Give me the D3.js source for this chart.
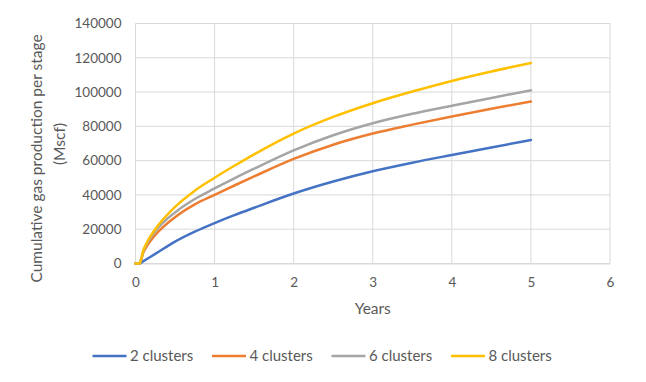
<!DOCTYPE html>
<html><head><meta charset="utf-8">
<script src="https://cdn.jsdelivr.net/npm/d3@7"></script>
<style>
html,body{margin:0;padding:0;background:#fff;}
text{font-family:Lato,"Open Sans",sans-serif;fill:#595959;}
</style></head>
<body><svg id="c" width="646" height="382"></svg>
<script>
const years = [0, 0.05, 0.1, 0.15, 0.25, 0.5, 0.75, 1, 1.25, 1.5, 2, 2.5, 3, 3.5, 4, 4.5, 5];
const seriesNames = ["2 clusters", "4 clusters", "6 clusters", "8 clusters"];
const clusters2 = [0, 0, 1400, 2800, 5600, 12800, 18600, 23600, 28200, 32500, 40800, 47800, 53800, 58800, 63300, 67700, 72000];
const clusters4 = [0, 0, 6500, 10600, 16600, 27000, 34500, 40000, 45500, 50800, 61000, 69300, 75800, 81000, 85800, 90300, 94500];
const clusters6 = [0, 0, 7300, 12000, 18800, 29800, 37600, 43800, 49700, 55300, 66000, 74800, 81800, 87300, 92000, 96600, 101000];
const clusters8 = [0, 0, 7800, 12800, 20000, 33000, 42500, 50000, 57000, 63700, 75800, 85500, 93500, 100300, 106500, 112000, 117000];
const colors = ["#4472C4", "#ED7D31", "#A5A5A5", "#FFC000"];
const xTicks = [0, 1, 2, 3, 4, 5, 6];
const yTicks = [0, 20000, 40000, 60000, 80000, 100000, 120000, 140000];
const yTitle1 = "Cumulative gas production per stage";
const yTitle2 = "(Mscf)";
const xTitle = "Years";

const allSeries = [clusters2, clusters4, clusters6, clusters8];
const svg = d3.select("#c");
const x = d3.scaleLinear().domain([0, 6]).range([135.5, 610]);
const y = d3.scaleLinear().domain([0, 140000]).range([263.5, 23.5]);

// gridlines
svg.append("g").selectAll("line").data(yTicks).join("line")
  .attr("x1", x(0)).attr("x2", x(6)).attr("y1", d => y(d)).attr("y2", d => y(d))
  .attr("stroke", "#d9d9d9").attr("stroke-width", 1);
svg.append("g").selectAll("line").data(xTicks).join("line")
  .attr("x1", d => x(d)).attr("x2", d => x(d)).attr("y1", y(0)).attr("y2", y(140000))
  .attr("stroke", "#d9d9d9").attr("stroke-width", 1);

// axes
const yAxis = d3.axisLeft(y).tickValues(yTicks).tickFormat(d3.format("d")).tickSize(0).tickPadding(14);
const gy = svg.append("g").attr("transform", `translate(${x(0)},0)`).call(yAxis);
gy.select(".domain").remove();
gy.selectAll("text").style("font-size", "13.5px").attr("fill", "#595959");

const xAxis = d3.axisBottom(x).tickValues(xTicks).tickFormat(d3.format("d")).tickSize(0).tickPadding(14);
const gx = svg.append("g").attr("transform", `translate(0,${y(0)})`).call(xAxis);
gx.select(".domain").attr("stroke", "#d9d9d9");
gx.selectAll("text").style("font-size", "13.5px").attr("fill", "#595959");

// lines
const line = d3.line().x((d, i) => x(years[i])).y(d => y(d)).curve(d3.curveMonotoneX);
svg.append("g").selectAll("path").data(allSeries).join("path")
  .attr("d", d => line(d)).attr("fill", "none")
  .attr("stroke", (d, i) => colors[i]).attr("stroke-width", 2.5).attr("stroke-linecap", "round");

// titles
svg.append("text").attr("x", (x(0) + x(6)) / 2).attr("y", 313.5).attr("text-anchor", "middle")
  .style("font-size", "15.5px").text(xTitle);
svg.append("text").attr("transform", "translate(42,158.5) rotate(-90)").attr("text-anchor", "middle")
  .style("font-size", "15.5px").text(yTitle1);
svg.append("text").attr("transform", "translate(65,144) rotate(-90)").attr("text-anchor", "middle")
  .style("font-size", "15.5px").text(yTitle2);

// legend
const lg = svg.append("g").selectAll("g").data(seriesNames).join("g")
  .attr("transform", (d, i) => `translate(${92.5 + i * 119.5},356)`);
lg.append("line").attr("x1", 0).attr("x2", 34).attr("y1", 0).attr("y2", 0)
  .attr("stroke", (d, i) => colors[i]).attr("stroke-width", 2.5);
lg.append("text").attr("x", 37.5).attr("y", 5.2).style("font-size", "15px").text(d => d);
</script></body></html>
